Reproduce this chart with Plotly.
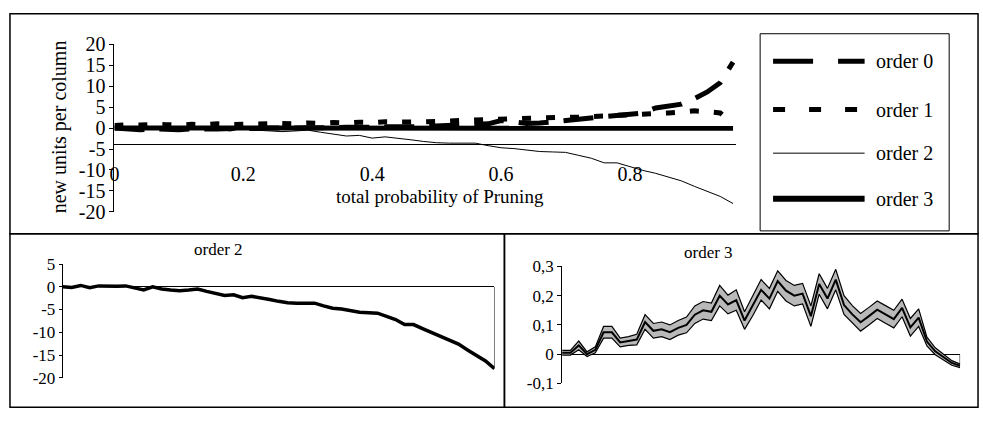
import plotly.graph_objects as go

W, H = 983, 421
FONT = "Liberation Serif"

# ---------------- data ----------------
prune = [0.00, 0.02, 0.04, 0.06, 0.08, 0.10, 0.12, 0.14, 0.16, 0.18,
         0.20, 0.22, 0.24, 0.26, 0.28, 0.30, 0.32, 0.34, 0.36, 0.38,
         0.40, 0.42, 0.44, 0.46, 0.48, 0.50, 0.52, 0.54, 0.56, 0.58,
         0.60, 0.62, 0.64, 0.66, 0.68, 0.70, 0.72, 0.74, 0.76, 0.78,
         0.80, 0.82, 0.84, 0.86, 0.88, 0.90, 0.92, 0.94, 0.96]

order0 = [0.0, -0.3, -0.4, -0.2, -0.3, -0.4, -0.2, -0.3, -0.2, -0.1,
          -0.2, -0.1, 0.0, -0.1, 0.0, 0.1, 0.0, 0.1, 0.2, 0.1,
          0.2, 0.3, 0.2, 0.3, 0.4, 0.5, 0.5, 0.6, 0.8, 1.0,
          1.8, 1.3, 1.1, 1.2, 1.5, 1.8, 2.1, 2.5, 2.8, 3.2,
          3.4, 3.6, 4.8, 5.3, 5.7, 7.0, 8.6, 10.8, 15.7]

order1 = [0.6, 0.8, 0.7, 0.9, 0.8, 0.7, 0.9, 0.8, 1.0, 0.8,
          0.9, 1.0, 0.9, 1.1, 1.0, 1.2, 1.1, 1.3, 1.2, 1.4,
          1.3, 1.5, 1.4, 1.6, 1.5, 1.6, 1.7, 1.8, 1.9, 2.0,
          2.1, 2.2, 2.5, 2.4, 2.5, 2.6, 2.6, 2.7, 2.8, 2.9,
          3.0, 3.2, 3.4, 3.6, 3.8, 4.1, 3.9, 3.6, 0.8]

order2 = [0.0, -0.15, 0.3, -0.2, 0.2, 0.1, 0.1, 0.2, -0.35, -0.7,
          0.0, -0.5, -0.7, -0.85, -0.7, -0.5, -1.0, -1.4, -1.9, -1.75,
          -2.4, -2.1, -2.4, -2.8, -3.2, -3.5, -3.6, -3.6, -3.6, -4.2,
          -4.7, -4.9, -5.3, -5.6, -5.7, -5.8, -6.5, -7.2, -8.3, -8.3,
          -9.2, -10.1, -10.8, -11.7, -12.6, -13.9, -15.1, -16.3, -18.0]

order3 = [0.005, 0.005, 0.030, 0.000, 0.015, 0.075, 0.075, 0.040, 0.045, 0.050,
          0.110, 0.080, 0.085, 0.075, 0.090, 0.100, 0.135, 0.150, 0.145, 0.200,
          0.170, 0.185, 0.115, 0.165, 0.220, 0.190, 0.250, 0.217, 0.200, 0.207,
          0.130, 0.240, 0.190, 0.255, 0.168, 0.136, 0.109, 0.130, 0.152, 0.136,
          0.120, 0.158, 0.092, 0.125, 0.043, 0.010, -0.010, -0.030, -0.040]

order3_upper = [0.013, 0.013, 0.045, 0.008, 0.025, 0.095, 0.095, 0.055, 0.060, 0.068,
                0.135, 0.105, 0.110, 0.100, 0.115, 0.127, 0.165, 0.180, 0.175, 0.235,
                0.202, 0.220, 0.145, 0.198, 0.255, 0.225, 0.285, 0.252, 0.235, 0.242,
                0.165, 0.275, 0.225, 0.290, 0.200, 0.166, 0.139, 0.160, 0.182, 0.166,
                0.150, 0.188, 0.122, 0.155, 0.058, 0.022, 0.000, -0.022, -0.034]

order3_lower = [-0.003, -0.003, 0.015, -0.008, 0.005, 0.055, 0.055, 0.025, 0.030, 0.032,
                0.085, 0.055, 0.060, 0.050, 0.065, 0.073, 0.105, 0.120, 0.115, 0.165,
                0.138, 0.150, 0.085, 0.132, 0.185, 0.155, 0.215, 0.182, 0.165, 0.172,
                0.095, 0.205, 0.155, 0.220, 0.136, 0.106, 0.079, 0.100, 0.122, 0.106,
                0.090, 0.128, 0.062, 0.095, 0.028, -0.002, -0.020, -0.038, -0.046]

series_names = ["order 0", "order 1", "order 2", "order 3"]
top_xticks = [0, 0.2, 0.4, 0.6, 0.8]
top_xticktext = ["0", "0.2", "0.4", "0.6", "0.8"]
top_yticks = [20, 15, 10, 5, 0, -5, -10, -15, -20]
top_yticktext = ["20", "15", "10", "5", "0", "-5", "-10", "-15", "-20"]
o2_yticks = [5, 0, -5, -10, -15, -20]
o2_yticktext = ["5", "0", "-5", "-10", "-15", "-20"]
o3_yticks = [0.3, 0.2, 0.1, 0, -0.1]
o3_yticktext = ["0,3", "0,2", "0,1", "0", "-0,1"]

# ---------------- styles ----------------
styles = [
    dict(color="black", width=5, dash="30px,15px"),
    dict(color="black", width=5, dash="9px,15px"),
    dict(color="black", width=1, dash="solid"),
    dict(color="black", width=5, dash="solid"),
]
legend_styles = [
    dict(color="black", width=5, dash="40px,25px"),
    dict(color="black", width=5, dash="12px,24px"),
    dict(color="black", width=1, dash="solid"),
    dict(color="black", width=6, dash="solid"),
]


def px(x):
    return x / W


def py(y):
    return 1 - y / H


fig = go.Figure()

# ---- top panel ----
top_series = [order0, order1, order2, order3]
for name, ys, st in zip(series_names, top_series, styles):
    fig.add_trace(go.Scatter(x=prune, y=ys, mode="lines", name=name, line=st,
                             showlegend=False, xaxis="x", yaxis="y"))

# ---- bottom left: order 2 ----
fig.add_trace(go.Scatter(x=prune, y=order2, mode="lines", line=dict(color="black", width=3.5),
                         showlegend=False, xaxis="x2", yaxis="y2"))
fig.add_trace(go.Scatter(x=[prune[-1], prune[-1]], y=[0, order2[-1]], mode="lines",
                         line=dict(color="black", width=1), showlegend=False,
                         xaxis="x2", yaxis="y2"))

# ---- bottom right: order 3 with band ----
fig.add_trace(go.Scatter(x=prune, y=order3_lower, mode="lines", line=dict(color="black", width=1.2),
                         showlegend=False, xaxis="x3", yaxis="y3"))
fig.add_trace(go.Scatter(x=prune, y=order3_upper, mode="lines", line=dict(color="black", width=1.2),
                         fill="tonexty", fillcolor="#b9b9b9",
                         showlegend=False, xaxis="x3", yaxis="y3"))
fig.add_trace(go.Scatter(x=prune, y=order3, mode="lines", line=dict(color="black", width=2),
                         showlegend=False, xaxis="x3", yaxis="y3"))
fig.add_trace(go.Scatter(x=[prune[-1], prune[-1]], y=[0, order3[-1]], mode="lines",
                         line=dict(color="black", width=1), showlegend=False,
                         xaxis="x3", yaxis="y3"))

axis_common = dict(showgrid=False, linecolor="black", linewidth=1, tickcolor="black",
                   color="black")

fig.update_layout(
    width=W, height=H, autosize=False,
    margin=dict(l=0, r=0, t=0, b=0),
    paper_bgcolor="white", plot_bgcolor="rgba(0,0,0,0)",
    font=dict(family=FONT, color="black"),
    showlegend=False,
    hovermode=False,
    xaxis=dict(domain=[px(110), px(735)], range=[0, 0.965], anchor="free",
               position=py(140.5), showline=True, ticks="", zeroline=False,
               tickvals=top_xticks, ticktext=top_xticktext,
               tickfont=dict(family=FONT, size=20), ticklabelstandoff=12,
               **axis_common),
    yaxis=dict(domain=[py(212), py(35)], range=[-20, 20], anchor="x",
               tickvals=top_yticks, ticktext=top_yticktext,
               showline=True, ticks="outside", ticklen=4,
               zeroline=False, tickfont=dict(family=FONT, size=20), **axis_common),
    xaxis2=dict(domain=[px(58), px(492)], range=[0, 0.96], anchor="y2",
                visible=False),
    yaxis2=dict(domain=[py(387), py(267)], range=[-20, 5], anchor="x2",
                tickvals=o2_yticks, ticktext=o2_yticktext,
                showline=True, ticks="outside", ticklen=3,
                zeroline=True, zerolinecolor="black", zerolinewidth=1,
                tickfont=dict(family=FONT, size=17), **axis_common),
    xaxis3=dict(domain=[px(560), px(960)], range=[0, 0.96], anchor="y3",
                visible=False),
    yaxis3=dict(domain=[py(393), py(269.5)], range=[-0.1, 0.3], anchor="x3",
                tickvals=o3_yticks, ticktext=o3_yticktext, showline=True,
                ticks="outside", ticklen=4,
                zeroline=True, zerolinecolor="black", zerolinewidth=1,
                tickfont=dict(family=FONT, size=17), **axis_common),
)

shapes = []
# panel frames
for (x0, y0, x1, y1) in [(5, 3, 978, 235), (5, 235, 502, 418), (502, 235, 978, 418)]:
    shapes.append(dict(type="rect", xref="paper", yref="paper",
                       x0=px(x0), x1=px(x1), y0=py(y1), y1=py(y0),
                       line=dict(color="black", width=1.5)))
# legend box
shapes.append(dict(type="rect", xref="paper", yref="paper",
                   x0=px(759), x1=px(949), y0=py(232), y1=py(24),
                   line=dict(color="black", width=1)))
legend_rows = [53, 104, 150, 198]
annotations = []
for name, st, yy in zip(series_names, legend_styles, legend_rows):
    shapes.append(dict(type="line", xref="paper", yref="paper",
                       x0=px(772), x1=px(864), y0=py(yy), y1=py(yy), line=st))
    annotations.append(dict(text=name, xref="paper", yref="paper", x=px(873), y=py(yy),
                            xanchor="left", yanchor="middle", showarrow=False,
                            font=dict(family=FONT, size=20, color="black")))

annotations += [
    dict(text="new units per column", xref="paper", yref="paper", x=px(55), y=py(122),
         textangle=-90, showarrow=False, xanchor="center", yanchor="middle",
         font=dict(family=FONT, size=20, color="black")),
    dict(text="total probability of Pruning", xref="paper", yref="paper", x=px(437), y=py(196),
         showarrow=False, xanchor="center", yanchor="middle",
         font=dict(family=FONT, size=19, color="black")),
    dict(text="order 2", xref="paper", yref="paper", x=px(215), y=py(252),
         showarrow=False, xanchor="center", yanchor="middle",
         font=dict(family=FONT, size=17, color="black")),
    dict(text="order 3", xref="paper", yref="paper", x=px(707), y=py(255),
         showarrow=False, xanchor="center", yanchor="middle",
         font=dict(family=FONT, size=17, color="black")),
]

fig.update_layout(shapes=shapes, annotations=annotations)

fig.write_html(
    "out.html",
    config={"displayModeBar": False, "staticPlot": True},
    post_script="document.body.style.margin='0';document.body.style.overflow='hidden';",
)
